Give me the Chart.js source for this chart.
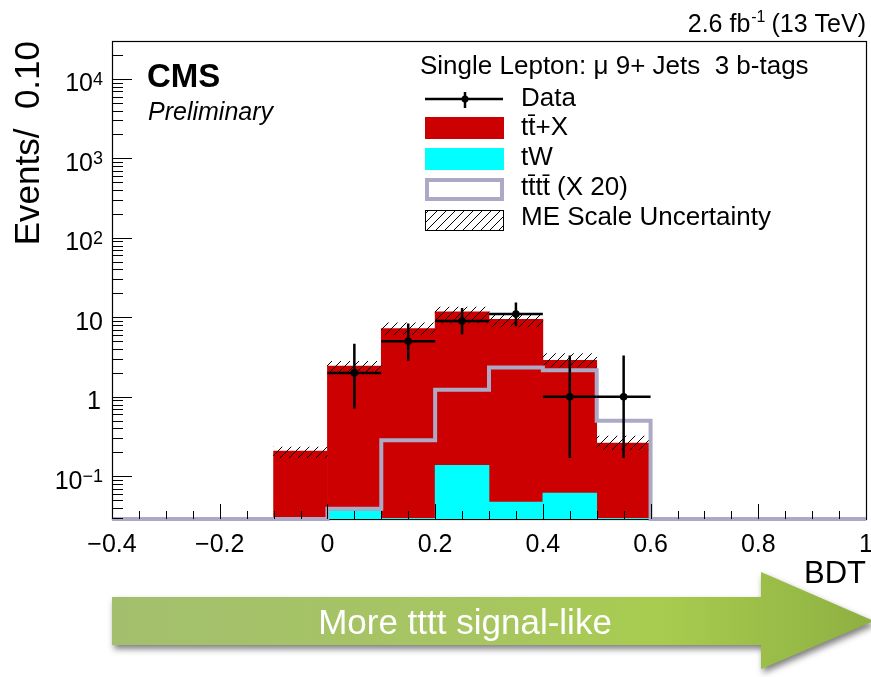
<!DOCTYPE html>
<html><head><meta charset="utf-8">
<script src="https://cdn.jsdelivr.net/npm/chart.js@4.4.1/dist/chart.umd.min.js"></script>
<style>html,body{margin:0;padding:0;background:#fff;overflow:hidden}canvas{display:block}</style>
</head><body>
<canvas id="c" width="871" height="677"></canvas>
<script>
// ---- data ----
const binCenters = [-0.05, 0.05, 0.15, 0.25, 0.35, 0.45, 0.55];
const ttXValues  = [0.208, 2.40, 7.20, 11.56, 9.41, 2.82, 0.233];
const tWValues   = [0, 0.037, 0.0295, 0.137, 0.0473, 0.0615, 0.0295];
const uncLow     = [0.171, 2.05, 6.07, 8.5, 7.6, 2.37, 0.218];
const uncHigh    = [0.233, 2.80, 8.5, 13.5, 11.2, 3.5, 0.321];
const signalEdges = [-0.4,-0.3,-0.2,-0.1,0,0.1,0.2,0.3,0.4,0.5,0.6,0.7,0.8,0.9,1.0];
const signalX20   = [0,0,0,0,0.039,0.283,1.23,2.33,2.16,0.50,0,0,0,0];
const dataX       = [0.05, 0.15, 0.25, 0.35, 0.45, 0.55];
const dataY       = [2, 5, 9, 11, 1, 1];
const dataErrLow  = [1.29, 2.16, 2.94, 3.26, 0.83, 0.83];
const dataErrHigh = [2.64, 3.38, 4.11, 4.42, 2.30, 2.30];
const xTicks   = [-0.4, -0.2, 0, 0.2, 0.4, 0.6, 0.8, 1];
const yDecades = [-1, 0, 1, 2, 3, 4];
const Y_MIN = 0.029, Y_MAX = 30000;
const HALF_BIN = 0.05;

const FONT = '"Liberation Sans", Arial, Helvetica, sans-serif';
const canvas = document.getElementById('c');
const ctx0 = canvas.getContext('2d');

function makeHatch(){
  const c = document.createElement('canvas'); c.width = 9; c.height = 9;
  const g = c.getContext('2d'); g.strokeStyle = '#000'; g.lineWidth = 1;
  g.beginPath(); g.moveTo(-1,10); g.lineTo(10,-1); g.stroke();
  g.beginPath(); g.moveTo(-1,1); g.lineTo(1,-1); g.stroke();
  g.beginPath(); g.moveTo(8,10); g.lineTo(10,8); g.stroke();
  return ctx0.createPattern(c, 'repeat');
}
const hatch = makeHatch();

const totals = ttXValues.map((v,i) => v + tWValues[i]);
const lastSig = signalX20[signalX20.length-1];
const barCommon = {grouped:false, barPercentage:1, categoryPercentage:1, borderWidth:0};

const overlay = {
  id: 'overlay',
  beforeDatasetsDraw(chart){
    const {ctx, chartArea:a} = chart;
    ctx.save();
    ctx.strokeStyle = '#000'; ctx.lineWidth = 1.2;
    ctx.strokeRect(Math.round(a.left)+0.5, Math.round(a.top)+0.5, Math.round(a.right-a.left), Math.round(a.bottom-a.top));
    ctx.restore();
  },
  afterDatasetsDraw(chart){
    const {ctx, chartArea:a} = chart;
    const xs = chart.scales.x, ys = chart.scales.y;
    ctx.save();
    // error bars on data
    ctx.strokeStyle = '#000'; ctx.lineWidth = 2.5;
    dataX.forEach((x,i) => {
      const px = xs.getPixelForValue(x), py = ys.getPixelForValue(dataY[i]);
      ctx.beginPath();
      ctx.moveTo(px, ys.getPixelForValue(dataY[i]-dataErrLow[i]));
      ctx.lineTo(px, ys.getPixelForValue(dataY[i]+dataErrHigh[i]));
      ctx.moveTo(xs.getPixelForValue(x-HALF_BIN), py);
      ctx.lineTo(xs.getPixelForValue(x+HALF_BIN), py);
      ctx.stroke();
    });
    // ticks
    ctx.lineWidth = 1;
    for (let k = -8; k <= 20; k++){
      const px = Math.round(xs.getPixelForValue(k*0.05)) + 0.5;
      const len = (k % 4 === 0) ? 15 : 8;
      ctx.beginPath(); ctx.moveTo(px, a.bottom); ctx.lineTo(px, a.bottom - len); ctx.stroke();
    }
    for (let e = -2; e <= 4; e++){
      for (let m = 1; m <= 9; m++){
        const v = m * Math.pow(10, e);
        if (v < Y_MIN || v > Y_MAX) continue;
        const py = Math.round(ys.getPixelForValue(v)) + 0.5;
        const len = m === 1 ? 20 : 11;
        ctx.beginPath(); ctx.moveTo(a.left, py); ctx.lineTo(a.left + len, py); ctx.stroke();
      }
    }
    // y tick labels
    ctx.fillStyle = '#000'; ctx.textAlign = 'right'; ctx.textBaseline = 'alphabetic';
    yDecades.forEach(e => {
      const y = ys.getPixelForValue(Math.pow(10, e));
      const base = e === 0 ? '1' : '10';
      const sup = (e === 0 || e === 1) ? '' : (e < 0 ? '\u2212' + (-e) : String(e));
      let xr = e === 0 ? 101 : 103;
      if (sup){ ctx.font = `18px ${FONT}`; ctx.fillText(sup, xr, y + 6); xr -= ctx.measureText(sup).width; }
      ctx.font = `25px ${FONT}`; ctx.fillText(base, xr, y + 12.5);
    });
    ctx.restore();
  },
  afterDraw(chart){
    const ctx = chart.ctx;
    ctx.save();
    ctx.fillStyle = '#000'; ctx.textBaseline = 'alphabetic';
    // y title
    ctx.save(); ctx.translate(39, 41); ctx.rotate(-Math.PI/2);
    ctx.font = `35px ${FONT}`; ctx.textAlign = 'right';
    ctx.fillText('Events/  0.10', 0, 0); ctx.restore();
    // x title
    ctx.font = `31px ${FONT}`; ctx.textAlign = 'right'; ctx.fillText('BDT', 866, 583);
    // lumi
    ctx.font = `25px ${FONT}`; ctx.textAlign = 'right';
    ctx.fillText('(13 TeV)', 866, 32);
    const w1 = ctx.measureText('(13 TeV)').width;
    ctx.font = `16px ${FONT}`; ctx.fillText('-1', 866 - w1 - 6, 22);
    const w2 = ctx.measureText('-1').width;
    ctx.font = `25px ${FONT}`; ctx.fillText('2.6 fb', 866 - w1 - 6 - w2 - 1, 32);
    // CMS
    ctx.textAlign = 'left';
    ctx.font = `bold 33px ${FONT}`; ctx.fillText('CMS', 147, 87);
    ctx.font = `italic 25px ${FONT}`; ctx.fillText('Preliminary', 148, 120);
    // legend
    ctx.font = `26px ${FONT}`;
    ctx.fillText('Single Lepton: \u03BC 9+ Jets  3 b-tags', 420, 74);
    const tx = 521;
    ctx.fillText('Data', tx, 106);
    ctx.fillText('tt\u0304+X', tx, 135);
    ctx.fillText('tW', tx, 165);
    ctx.fillText('tt\u0304tt\u0304 (X 20)', tx, 195);
    ctx.fillText('ME Scale Uncertainty', tx, 225);
    // data symbol
    ctx.strokeStyle = '#000'; ctx.lineWidth = 2.5;
    ctx.beginPath(); ctx.moveTo(425, 99); ctx.lineTo(503, 99); ctx.moveTo(465, 92); ctx.lineTo(465, 108); ctx.stroke();
    ctx.beginPath(); ctx.arc(465, 99, 3.5, 0, Math.PI*2); ctx.fill();
    ctx.fillStyle = '#cc0000'; ctx.fillRect(425, 117, 79, 22);
    ctx.fillStyle = '#00ffff'; ctx.fillRect(425, 148, 79, 22);
    ctx.strokeStyle = '#aba9c6'; ctx.lineWidth = 4; ctx.strokeRect(427, 180, 75, 19);
    ctx.fillStyle = hatch; ctx.fillRect(425, 210, 78, 20);
    ctx.strokeStyle = '#000'; ctx.lineWidth = 1; ctx.strokeRect(425.5, 210.5, 78, 20);
    // arrow
    ctx.save();
    const g = ctx.createLinearGradient(112, 0, 871, 0);
    g.addColorStop(0, '#a3bf6e'); g.addColorStop(0.5, '#a7c660'); g.addColorStop(0.72, '#a8cc4f'); g.addColorStop(1, '#8fb042');
    ctx.shadowColor = 'rgba(0,0,0,0.5)'; ctx.shadowBlur = 6; ctx.shadowOffsetX = 2; ctx.shadowOffsetY = 4;
    ctx.beginPath();
    ctx.moveTo(112, 597); ctx.lineTo(761, 597); ctx.lineTo(761, 572); ctx.lineTo(874, 621);
    ctx.lineTo(761, 669); ctx.lineTo(761, 645); ctx.lineTo(112, 645); ctx.closePath();
    ctx.fillStyle = g; ctx.fill();
    ctx.restore();
    ctx.fillStyle = '#fff'; ctx.font = `35px ${FONT}`; ctx.textAlign = 'center';
    ctx.fillText('More tttt signal-like', 465, 634);
    ctx.restore();
  }
};

new Chart(canvas, {
  type: 'bar',
  data: {
    datasets: [
      {type:'scatter', label:'Data', data: dataX.map((x,i) => ({x, y: dataY[i]})),
       pointRadius:3.8, pointBackgroundColor:'#000', pointBorderWidth:0, order:0},
      {type:'line', label:'tttt (X 20)', data: signalEdges.map((x,i) => ({x, y: Math.max(i < signalX20.length ? signalX20[i] : lastSig, Y_MIN)})),
       stepped:'before', borderColor:'#aba9c6', borderWidth:4, pointRadius:0, fill:false, clip:4, order:1},
      Object.assign({label:'ME Scale Uncertainty', data: binCenters.map((x,i) => ({x, y:[uncLow[i], uncHigh[i]]})),
       backgroundColor: hatch, order:2}, barCommon),
      Object.assign({label:'tW', data: binCenters.map((x,i) => ({x, y: tWValues[i]})),
       backgroundColor:'#00ffff', order:3}, barCommon),
      Object.assign({label:'ttX', data: binCenters.map((x,i) => ({x, y: totals[i]})),
       backgroundColor:'#cc0000', order:4}, barCommon)
    ]
  },
  options: {
    responsive:false, animation:false, events:[],
    layout: {padding:{top:41, right:5, left:0, bottom:0}, autoPadding:false},
    plugins: {legend:{display:false}, tooltip:{enabled:false}},
    scales: {
      x: {type:'linear', min:-0.4, max:1.0, offset:false,
          grid:{display:false, offset:false}, border:{display:false},
          afterBuildTicks: s => { s.ticks = xTicks.map(v => ({value:v})); },
          afterFit: s => { s.height = 158; s.paddingLeft = 0; s.paddingRight = 0; },
          ticks:{autoSkip:false, maxRotation:0, padding:3, color:'#000',
                 font:{family:FONT, size:25, lineHeight:1.2},
                 callback: v => { const r = Math.round(v*10)/10; return r < 0 ? '\u2212' + Math.abs(r) : String(r); }}},
      y: {type:'logarithmic', min:Y_MIN, max:Y_MAX,
          grid:{display:false}, border:{display:false},
          ticks:{display:false},
          afterFit: s => { s.width = 112; }}
    }
  },
  plugins: [overlay]
});
</script>
</body></html>
